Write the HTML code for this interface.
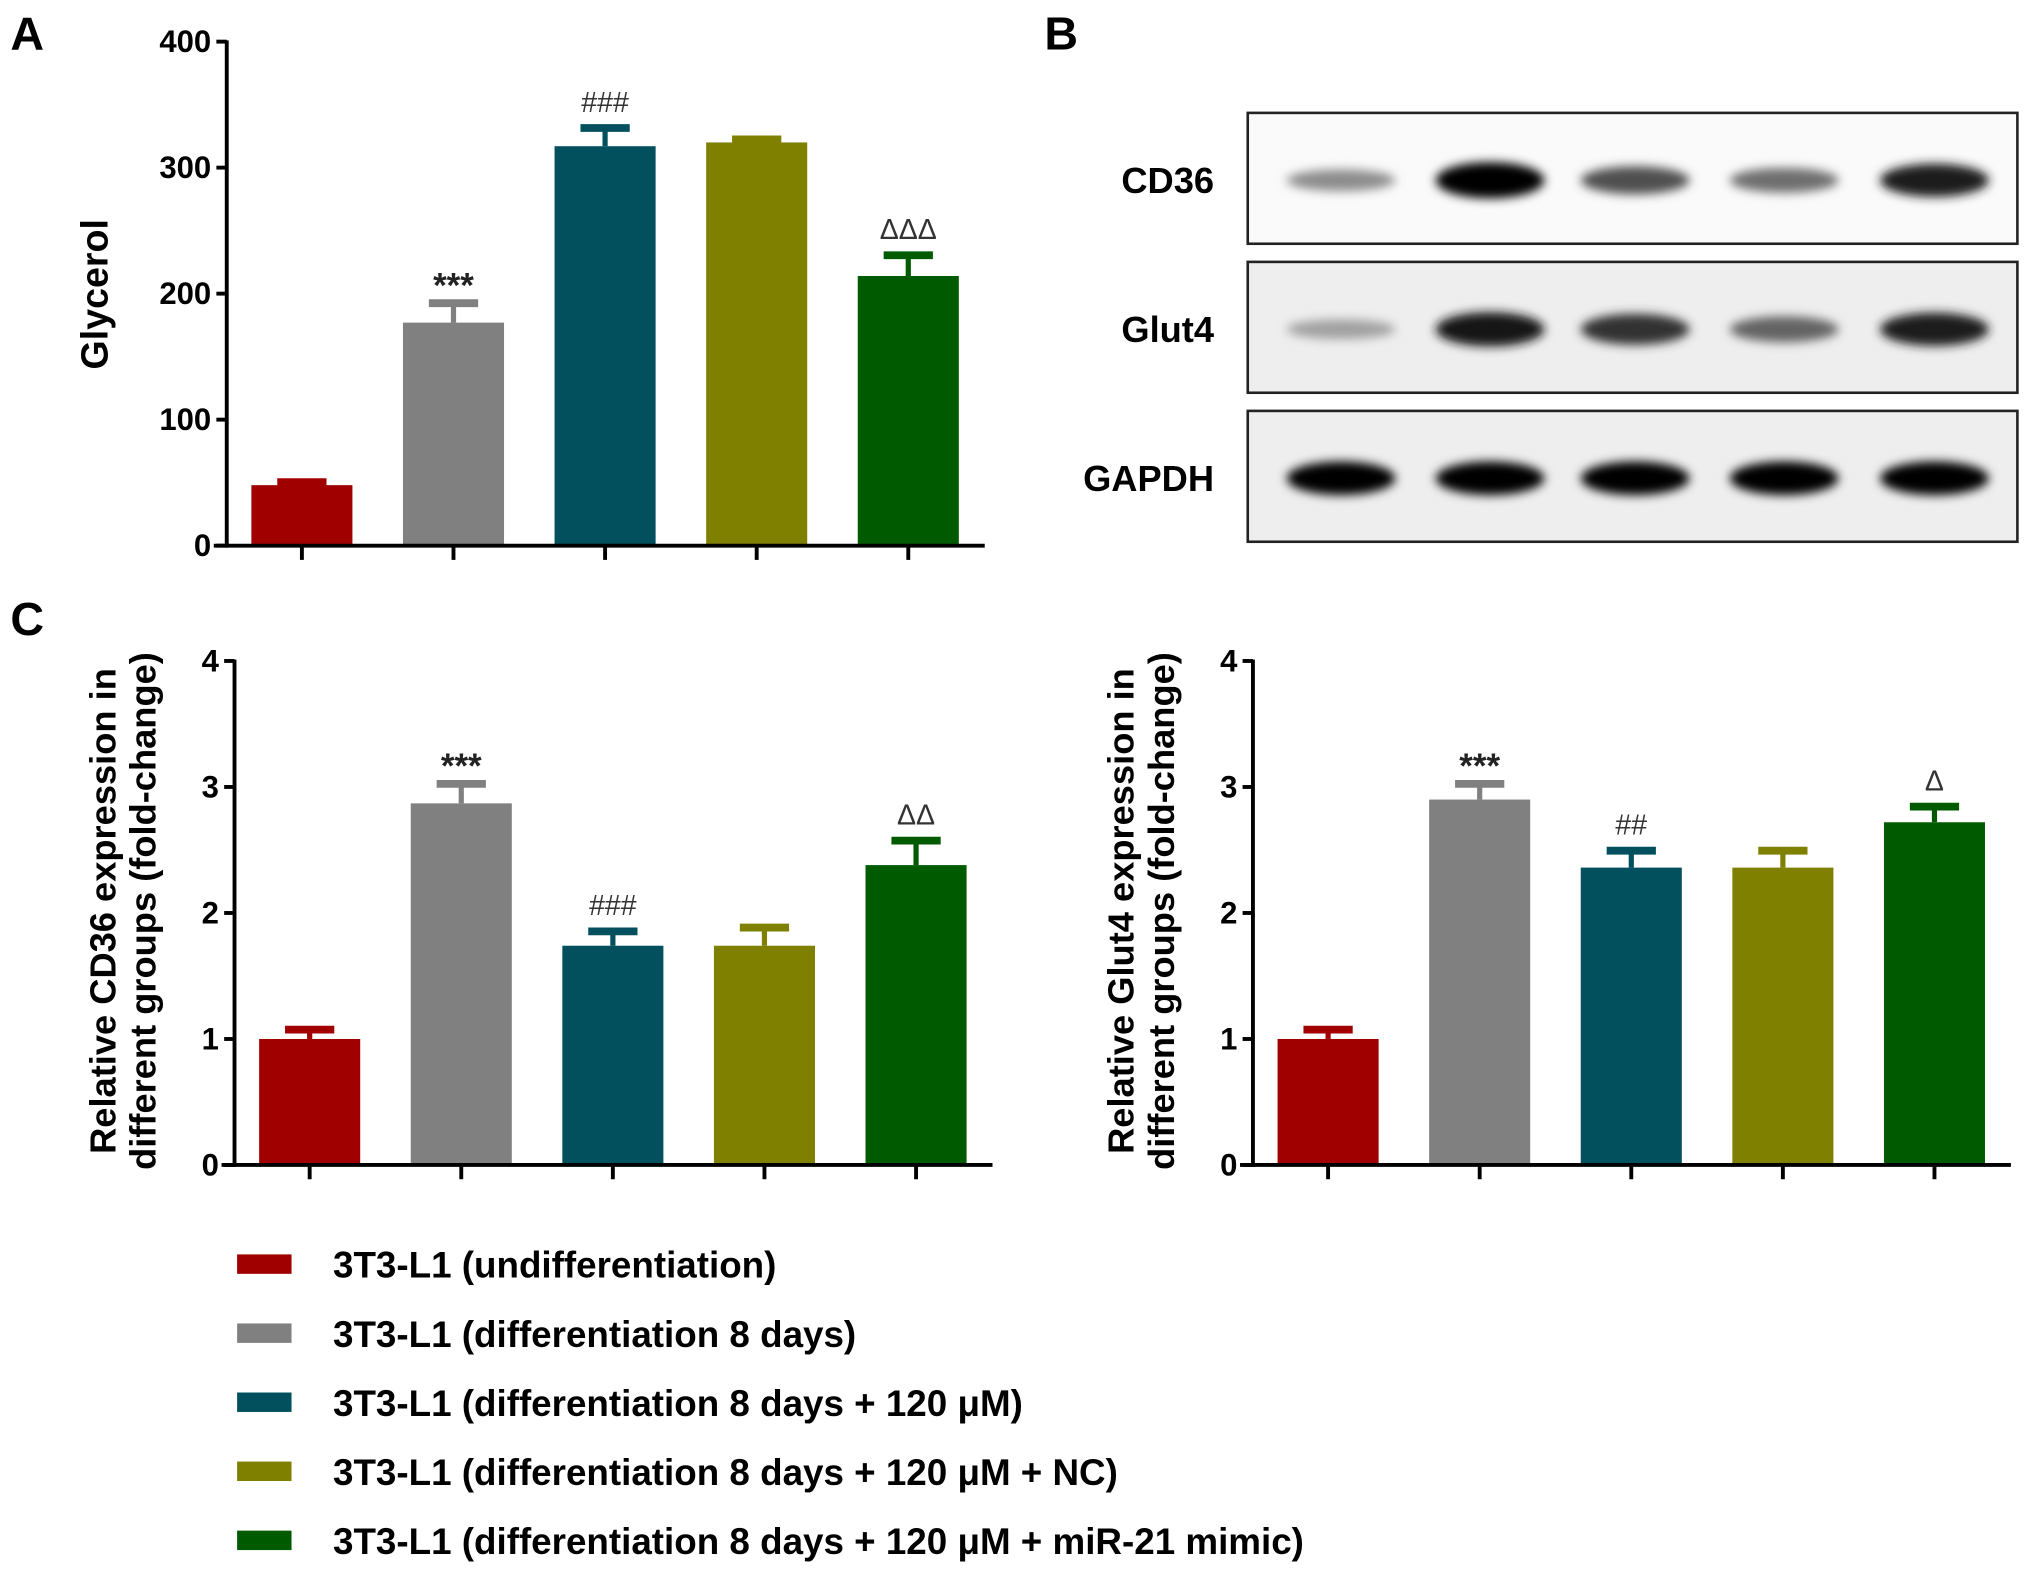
<!DOCTYPE html>
<html><head><meta charset="utf-8"><style>
html,body{margin:0;padding:0;background:#fff;}
svg{display:block;}
text{font-family:"Liberation Sans",sans-serif;}
.tick{font-family:"Liberation Sans Narrow","Liberation Sans",sans-serif;font-weight:bold;font-size:24px;}
.ttl{font-weight:bold;font-size:28px;}
.pl{font-weight:bold;font-size:36px;}
.ann{font-family:"Liberation Sans",sans-serif;font-size:22px;}
.star{font-family:"Liberation Sans",sans-serif;font-weight:bold;font-size:27px;}
.leg{font-weight:bold;font-size:28.4px;}
</style></head><body>
<svg id="fig" width="2031" height="1572" viewBox="0 0 1567.5 1213" xmlns="http://www.w3.org/2000/svg">
<defs><filter id="blur" x="-30%" y="-100%" width="160%" height="300%"><feGaussianBlur stdDeviation="4"/></filter></defs>
<text class="pl" x="8" y="38">A</text>
<text class="pl" x="806" y="38">B</text>
<text class="pl" x="8" y="490">C</text>
<g id="blots"></g>
<g id="legend"></g>
</svg>
<script>
const colors=["#a00000","#808080","#024f5e","#808000","#005a00"];
const groups=["3T3-L1 (undifferentiation)","3T3-L1 (differentiation 8 days)","3T3-L1 (differentiation 8 days + 120 μM)","3T3-L1 (differentiation 8 days + 120 μM + NC)","3T3-L1 (differentiation 8 days + 120 μM + miR-21 mimic)"];
const glycerolVals=[48,177,317,320,214];
const glycerolErr=[5,18,17,5,19];
const glycerolAnn=["","***","###","","ΔΔΔ"];
const glycerolTicks=[0,100,200,300,400];
const cd36Vals=[1.0,2.87,1.74,1.74,2.38];
const cd36Err=[0.1,0.18,0.14,0.17,0.22];
const cd36Ann=["","***","###","","ΔΔ"];
const glut4Vals=[1.0,2.9,2.36,2.36,2.72];
const glut4Err=[0.1,0.15,0.16,0.16,0.15];
const glut4Ann=["","***","##","","Δ"];
const foldTicks=[0,1,2,3,4];
const cd36Band=[0.3,1.0,0.6,0.45,0.85];
const glut4Band=[0.2,0.9,0.75,0.5,0.85];
const gapdhBand=[1,1,1,1,1];

const NS="http://www.w3.org/2000/svg";
const svg=document.getElementById('fig');
function mk(tag,attrs,parent){const e=document.createElementNS(NS,tag);for(const k in attrs)e.setAttribute(k,attrs[k]);(parent||svg).appendChild(e);return e;}

function chart(cfg){
  const g=mk('g',{});
  
  
  const max=cfg.ticks[cfg.ticks.length-1];
  const y=v=>cfg.y0-(v/max)*(cfg.y0-cfg.yTop);
  const x=i=>cfg.x0+58+i*117;
  cfg.vals.forEach((v,i)=>{
    const cx=x(i),w=78,top=y(v),et=y(v+cfg.err[i]);
    const b=mk('rect',{x:cx-w/2,y:top,width:w,height:cfg.y0-top,fill:colors[i]},g);
    
    
    const el=mk('line',{x1:cx,x2:cx,y1:top,y2:et,stroke:colors[i],'stroke-width':4},g);
    
    
    mk('line',{x1:cx-19,x2:cx+19,y1:et+2.5,y2:et+2.5,stroke:colors[i],'stroke-width':6},g);
    if(cfg.ann[i]){const isStar=cfg.ann[i].startsWith('*');
      const t=mk('text',{x:cx,y:isStar?et-2:et-10,'text-anchor':'middle',class:isStar?'star':'ann',fill:isStar?'#222':'#333'},g);t.textContent=cfg.ann[i];
      
      }
    mk('line',{x1:cx,x2:cx,y1:cfg.y0,y2:cfg.y0+11,stroke:'#000','stroke-width':3},g);
  });
  mk('line',{x1:cfg.x0,x2:cfg.x0,y1:cfg.yTop-1,y2:cfg.y0+1.5,stroke:'#000','stroke-width':3},g);
  mk('line',{x1:cfg.x0-10,x2:cfg.x0+585,y1:cfg.y0,y2:cfg.y0,stroke:'#000','stroke-width':3},g);
  cfg.ticks.forEach(t=>{
    mk('line',{x1:cfg.x0-8,x2:cfg.x0,y1:y(t),y2:y(t),stroke:'#000','stroke-width':3},g);
    const tx=mk('text',{x:cfg.x0-12,y:y(t)+8,'text-anchor':'end',class:'tick'},g);tx.textContent=t;
    
    
  });
  const tl=mk('g',{transform:`translate(${cfg.titleX},${cfg.titleY||(cfg.y0+cfg.yTop)/2}) rotate(-90)`},g);
  
  
  cfg.title.forEach((s,k)=>{const t=mk('text',{x:0,y:k*31,'text-anchor':'middle',class:'ttl',style:cfg.tsize?'font-size:'+cfg.tsize+'px':''},tl);t.textContent=s;});
}
chart({name:'glycerol-chart',x0:175,y0:421,yTop:32,vals:glycerolVals,err:glycerolErr,ann:glycerolAnn,ticks:glycerolTicks,title:['Glycerol'],titleX:83,titleY:227,tsize:29});
chart({name:'cd36-chart',x0:181,y0:899,yTop:510,vals:cd36Vals,err:cd36Err,ann:cd36Ann,ticks:foldTicks,title:['Relative CD36 expression in','different groups (fold-change)'],titleX:89,titleY:703});
chart({name:'glut4-chart',x0:967,y0:899,yTop:510,vals:glut4Vals,err:glut4Err,ann:glut4Ann,ticks:foldTicks,title:['Relative Glut4 expression in','different groups (fold-change)'],titleX:875,titleY:703});

// blots
const bl=document.getElementById('blots');
const rows=[["CD36",87,cd36Band],["Glut4",202,glut4Band],["GAPDH",317,gapdhBand]];
const lanes=[1035,1150,1262,1377,1493];
rows.forEach(([name,top,vals])=>{
  const r=mk('rect',{x:963,y:top,width:594,height:101,fill:name==='CD36'?'#fafafa':'#eeeeee',stroke:'#222','stroke-width':2},bl);
  
  
  const t=mk('text',{x:937,y:top+62,'text-anchor':'end',class:'ttl',style:'font-size:28px'},bl);t.textContent=name;
  
  
  vals.forEach((v,i)=>{
    const g=Math.round(200*(1-v));
    const e=mk('ellipse',{cx:lanes[i],cy:top+52,rx:42,ry:name==='GAPDH'?13:(6+8*v),fill:`rgb(${g},${g},${g})`,filter:'url(#blur)'},bl);
    
    
  });
});

// legend
const lg=document.getElementById('legend');
groups.forEach((s,i)=>{
  const yy=976+i*53.3;
  const r=mk('rect',{x:183,y:yy-8,width:42,height:15,fill:colors[i]},lg);
  
  
  const t=mk('text',{x:257,y:yy+10,class:'leg'},lg);t.textContent=s;
  
  
});
</script>
</body></html>
